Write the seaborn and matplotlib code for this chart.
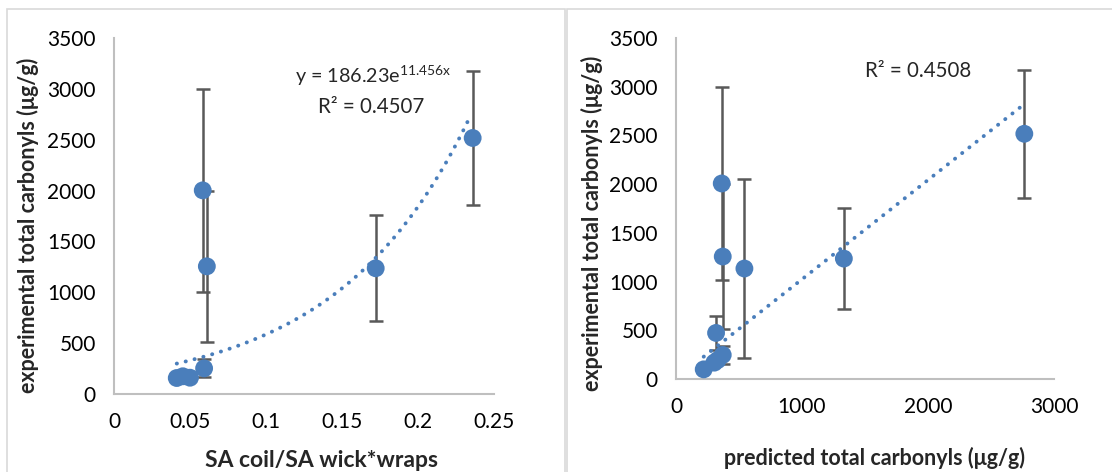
"""
Experimental vs. SA ratio / predicted total carbonyls, two-panel scatter with error bars.
"""

import numpy as np
import pandas as pd
import matplotlib.pyplot as plt
import seaborn as sns
from matplotlib.patches import Rectangle

# left panel data
sa_ratio = [0.0413, 0.0453, 0.0500, 0.0584, 0.0611, 0.0593, 0.1722, 0.2360]
exp_left = [157, 174, 160, 2002, 1255, 252, 1236, 2517]
err_left = [15, 15, 15, 997, 742, 88, 521, 656]
exp_fit_a = 186.23
exp_fit_b = 11.456
exp_fit_range = [0.0413, 0.2340]

# right panel data
pred_total = [220, 304, 331, 371, 318, 363, 371, 543, 1332, 2764]
exp_right = [99, 168, 195, 247, 473, 2007, 1257, 1134, 1236, 2517]
err_right = [10, 15, 15, 90, 177, 995, 743, 922, 522, 656]
lin_fit_slope = 1.019
lin_fit_intercept = 5
lin_fit_range = [220, 2750]

y_ticks = [0, 500, 1000, 1500, 2000, 2500, 3000, 3500]
left_xticks = [0, 0.05, 0.1, 0.15, 0.2, 0.25]
left_xlabels = ["0", "0.05", "0.1", "0.15", "0.2", "0.25"]
right_xticks = [0, 1000, 2000, 3000]

BLUE = "#4a7ebb"
GREY = "#595959"
AXIS = "#bfbfbf"
DOTS = (0, (0.05, 2.3))

sns.set_theme(style="white")
plt.rcParams["font.family"] = ["Lato", "DejaVu Sans"]
plt.rcParams["mathtext.fontset"] = "custom"
plt.rcParams["mathtext.rm"] = "Lato"

fig = plt.figure(figsize=(11.12, 4.72), dpi=100)

# panel frames
fig.patches.append(Rectangle((7 / 1112, -0.1), (565 - 7) / 1112, (472 - 9) / 472 + 0.1,
                             transform=fig.transFigure, fill=False, ec="#d9d9d9", lw=1.2))
fig.patches.append(Rectangle((567 / 1112, -0.1), (1120 - 567) / 1112, (472 - 9) / 472 + 0.1,
                             transform=fig.transFigure, fill=False, ec="#d9d9d9", lw=1.2))

ax1 = fig.add_axes([0.1025, 0.1653, 0.3417, 0.7542])
ax2 = fig.add_axes([0.6079, 0.197, 0.340, 0.7225])


def style_axis(ax):
    for side in ["top", "right"]:
        ax.spines[side].set_visible(False)
    for side in ["left", "bottom"]:
        ax.spines[side].set_color(AXIS)
        ax.spines[side].set_linewidth(1.5)
    ax.tick_params(axis="both", length=0, labelsize=15, colors="black")
    ax.tick_params(axis="x", pad=13)
    ax.tick_params(axis="y", pad=13)
    ax.set_ylim(0, 3500)
    ax.set_yticks(y_ticks)
    ax.grid(False)


# left panel
df_left = pd.DataFrame({"x": sa_ratio, "y": exp_left, "err": err_left})
ax1.errorbar(df_left["x"], df_left["y"], yerr=df_left["err"], fmt="none",
             ecolor=GREY, elinewidth=1.8, capsize=5, capthick=1.8, zorder=2)
fx = np.linspace(exp_fit_range[0], exp_fit_range[1], 200)
ax1.plot(fx, exp_fit_a * np.exp(exp_fit_b * fx), ls=DOTS, lw=2.8,
         color=BLUE, dash_capstyle="round", zorder=3)
sns.scatterplot(data=df_left, x="x", y="y", ax=ax1, s=165, color=BLUE,
                edgecolor="none", zorder=4)
style_axis(ax1)
ax1.set_xlim(0, 0.25)
ax1.set_xticks(left_xticks)
ax1.set_xticklabels(left_xlabels)
ax1.set_xlabel("SA coil/SA wick*wraps", fontsize=16.5, fontweight="bold")
ax1.set_ylabel("experimental total carbonyls (μg/g)", fontsize=15.5, fontweight="bold")
ax1.xaxis.set_label_coords(0.547, -0.158)
ax1.yaxis.set_label_coords(-0.197, 0.475)
ax1.text(0.476, 0.874, r"y = 186.23e$^{\mathrm{11.456x}}$", transform=ax1.transAxes,
         fontsize=14.2, ha="left", va="baseline")
ax1.text(0.676, 0.789, "R² = 0.4507", transform=ax1.transAxes,
         fontsize=14.8, ha="center", va="baseline")

# right panel
df_right = pd.DataFrame({"x": pred_total, "y": exp_right, "err": err_right})
ax2.errorbar(df_right["x"], df_right["y"], yerr=df_right["err"], fmt="none",
             ecolor=GREY, elinewidth=1.8, capsize=5, capthick=1.8, zorder=2)
lx = np.linspace(lin_fit_range[0], lin_fit_range[1], 2)
ax2.plot(lx, lin_fit_slope * lx + lin_fit_intercept, ls=DOTS, lw=2.8,
         color=BLUE, dash_capstyle="round", zorder=3)
sns.scatterplot(data=df_right, x="x", y="y", ax=ax2, s=165, color=BLUE,
                edgecolor="none", zorder=4)
style_axis(ax2)
ax2.set_xlim(0, 3000)
ax2.set_xticks(right_xticks)
ax2.set_xlabel("predicted total carbonyls (μg/g)", fontsize=15.5, fontweight="bold")
ax2.set_ylabel("experimental total carbonyls (μg/g)", fontsize=15.5, fontweight="bold")
ax2.xaxis.set_label_coords(0.524, -0.200)
ax2.yaxis.set_label_coords(-0.194, 0.457)
ax2.text(0.640, 0.886, "R² = 0.4508", transform=ax2.transAxes,
         fontsize=14.8, ha="center", va="baseline")

fig.savefig("out.png", dpi=100)
plt.close(fig)
